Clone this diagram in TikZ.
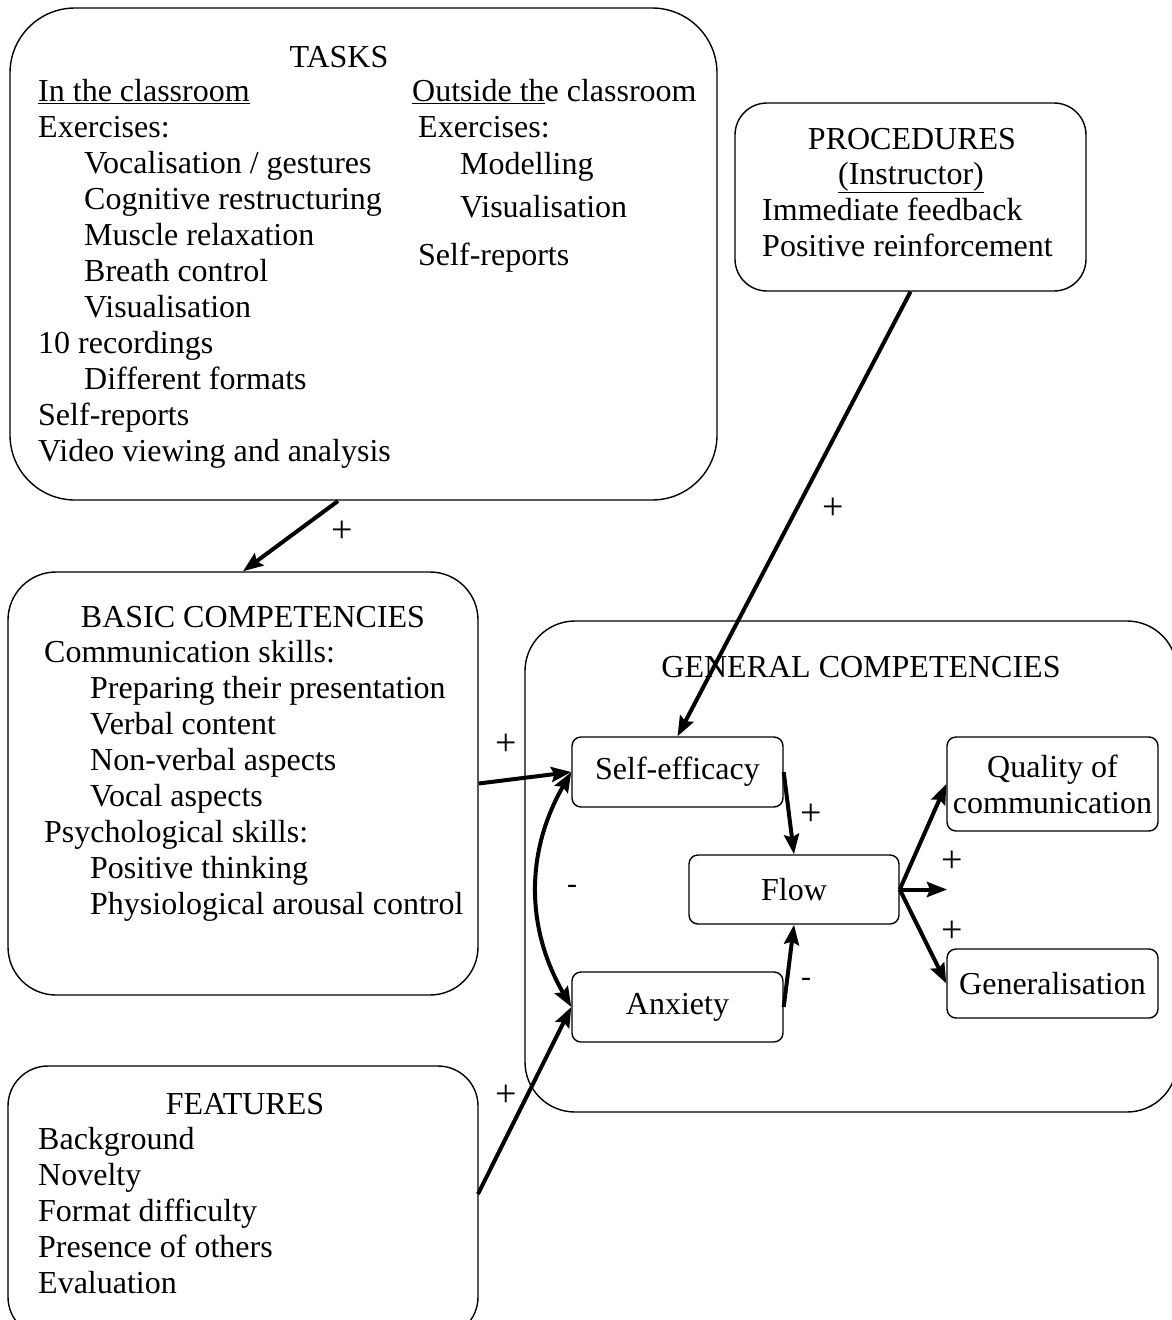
\documentclass[tikz,border=0pt]{standalone}
\usepackage{fontspec}
\setmainfont{Liberation Serif}
\usetikzlibrary{arrows.meta}
\begin{document}
\begin{tikzpicture}[x=1pt,y=-1pt,
  font=\fontsize{32}{36}\selectfont,
  bigbox/.style={draw, line width=1.4pt, rectangle, inner sep=0pt},
  smallbox/.style={draw, line width=1.4pt, rounded corners=9pt, inner sep=0pt, align=center},
  txt/.style={anchor=base west, inner sep=0pt},
  ttl/.style={anchor=base, inner sep=0pt},
  sgn/.style={anchor=base, inner sep=0pt, font=\fontsize{38}{40}\selectfont},
  msgn/.style={anchor=base, inner sep=0pt, font=\fontsize{30}{36}\selectfont},
  arr/.style={line width=4pt, -{Stealth[length=20pt,width=15pt,inset=3pt]}},
  dbl/.style={line width=4pt, {Stealth[length=20pt,width=15pt,inset=3pt]}-{Stealth[length=20pt,width=15pt,inset=3pt]}}]
\useasboundingbox (0,0) rectangle (1172,1320);
\clip (0,0) rectangle (1172,1320);

% big boxes
\node[bigbox, rounded corners=65pt, minimum width=707pt, minimum height=492pt] (tasks) at (363.5,254) {};
\node[bigbox, rounded corners=32pt, minimum width=351pt, minimum height=188pt] (proc) at (910.5,197) {};
\node[bigbox, rounded corners=48pt, minimum width=470pt, minimum height=423pt] (basic) at (243,783.5) {};
\node[bigbox, rounded corners=40pt, minimum width=470pt, minimum height=271pt] (feat) at (243,1201.5) {};
\node[bigbox, rounded corners=50pt, minimum width=652pt, minimum height=491pt] (gen) at (851,866.5) {};

% TASKS text
\node[ttl] (tasksT) at (339,67) {TASKS};
\node[txt] (t1) at (38,101) {\underline{In the classroom}};
\node[txt] (t2) at (38,137) {Exercises:};
\node[txt] (t3) at (84,173) {Vocalisation / gestures};
\node[txt] (t4) at (84,209) {Cognitive restructuring};
\node[txt] (t5) at (84,245) {Muscle relaxation};
\node[txt] (t6) at (84,281) {Breath control};
\node[txt] (t7) at (84,317) {Visualisation};
\node[txt] (t8) at (38,353) {10 recordings};
\node[txt] (t9) at (84,389) {Different formats};
\node[txt] (t10) at (38,425) {Self-reports};
\node[txt] (t11) at (38,461) {Video viewing and analysis};
\node[txt] (o1) at (412,101) {\underline{Outside th}e classroom};
\node[txt] (o2) at (418,137) {Exercises:};
\node[txt] (o3) at (460,174) {Modelling};
\node[txt] (o4) at (460,217) {Visualisation};
\node[txt] (o5) at (418,265) {Self-reports};

% PROCEDURES text
\node[ttl] (procT) at (912,149) {PROCEDURES};
\node[ttl] (procI) at (911,184) {\underline{(Instructor)}};
\node[txt] (p1) at (762,220) {Immediate feedback};
\node[txt] (p2) at (762,256) {Positive reinforcement};

% BASIC text
\node[ttl] (basicT) at (253,627) {BASIC COMPETENCIES};
\node[txt] (b1) at (44,662) {Communication skills:};
\node[txt] (b2) at (90,698) {Preparing their presentation};
\node[txt] (b3) at (90,734) {Verbal content};
\node[txt] (b4) at (90,770) {Non-verbal aspects};
\node[txt] (b5) at (90,806) {Vocal aspects};
\node[txt] (b6) at (44,842) {Psychological skills:};
\node[txt] (b7) at (90,878) {Positive thinking};
\node[txt] (b8) at (90,914) {Physiological arousal control};

% FEATURES text
\node[ttl] (featT) at (245,1114) {FEATURES};
\node[txt] (f1) at (38,1149) {Background};
\node[txt] (f2) at (38,1185) {Novelty};
\node[txt] (f3) at (38,1221) {Format difficulty};
\node[txt] (f4) at (38,1257) {Presence of others};
\node[txt] (f5) at (38,1293) {Evaluation};

% GENERAL
\node[ttl] (genT) at (861,677) {GENERAL COMPETENCIES};
\node[smallbox, minimum width=211pt, minimum height=70pt] (self) at (677.5,772) {Self-efficacy};
\node[smallbox, minimum width=211pt, minimum height=70pt] (anx) at (677.5,1007) {Anxiety};
\node[smallbox, minimum width=210pt, minimum height=69pt] (flow) at (794,889.5) {Flow};
\node[smallbox, minimum width=211pt, minimum height=94pt] (qual) at (1052.5,784) {Quality of\\communication};
\node[smallbox, minimum width=211pt, minimum height=69pt] (genl) at (1052.5,983.5) {Generalisation};

% coordinates
\coordinate (tasksout) at (338,501);
\coordinate (featout) at (478,1194);
\coordinate (flowout) at (947,889.5);

% connectors
\draw[arr] (tasksout) -- (basic.north);
\draw[arr] (proc.south) -- (self.north);
\draw[arr] (basic.east) -- (self.west);
\draw[arr] (featout) -- (anx.west);
\draw[arr] (self.east) -- (flow.north);
\draw[arr] (anx.east) -- (flow.south);
\draw[arr] (flow.east) -- (qual.west);
\draw[arr] (flow.east) -- (flowout);
\draw[arr] (flow.east) -- (genl.west);
\draw[dbl] (self.west) to[bend right=30] (anx.west);

% signs
\node[sgn] (s1) at (342,542) {+};
\node[sgn] (s2) at (833,519) {+};
\node[sgn] (s3) at (506,755) {+};
\node[sgn] (s4) at (506,1106) {+};
\node[sgn] (s5) at (811,825) {+};
\node[msgn] (s6) at (806,986) {-};
\node[msgn] (s7) at (572,893) {-};
\node[sgn] (s8) at (952,872) {+};
\node[sgn] (s9) at (952,942) {+};
\end{tikzpicture}
\end{document}
